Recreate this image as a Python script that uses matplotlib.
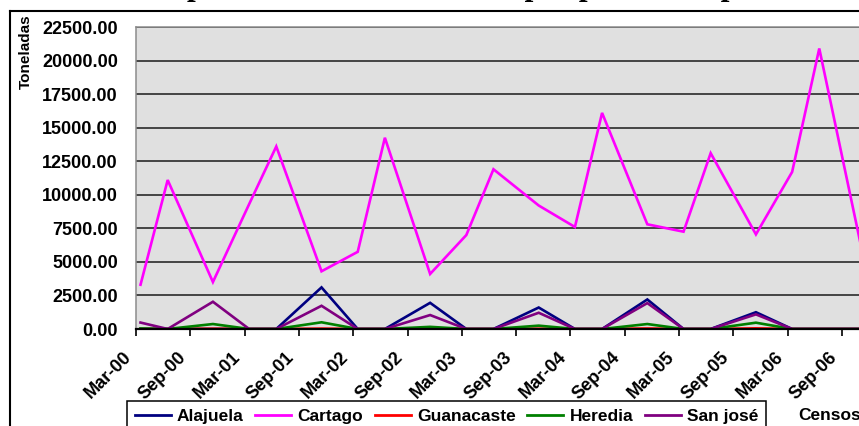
import matplotlib
matplotlib.use("Agg")
import matplotlib.pyplot as plt
from matplotlib.lines import Line2D
from matplotlib.ticker import FixedLocator, FuncFormatter
from matplotlib.transforms import ScaledTranslation

# Survey periods (month-yy) and tonnage per province
periods = ["Mar-00", "Jun-00", "Nov-00", "Mar-01", "Jun-01", "Nov-01", "Mar-02",
           "Jun-02", "Nov-02", "Mar-03", "Jun-03", "Nov-03", "Mar-04", "Jun-04",
           "Nov-04", "Mar-05", "Jun-05", "Nov-05", "Mar-06", "Jun-06", "Nov-06"]

alajuela = [0, 0, 0, 0, 0, 3100, 0, 0, 1950, 0, 0, 1600, 0, 0, 2200, 0, 0, 1250, 0, 0, 0]
cartago = [3300, 11100, 3500, 9300, 13600, 4300, 5750, 14250, 4100, 7000, 11900,
           9200, 7600, 16100, 7800, 7250, 13100, 7050, 11700, 20900, 4950]
guanacaste = [0, 0, 20, 0, 0, 30, 0, 0, 20, 0, 0, 20, 0, 0, 40, 0, 0, 50, 0, 0, 0]
heredia = [40, 0, 370, 0, 0, 500, 0, 0, 160, 0, 0, 250, 0, 0, 370, 0, 0, 470, 0, 0, 0]
san_jose = [480, 0, 2030, 0, 0, 1730, 0, 0, 1040, 0, 0, 1210, 0, 0, 1930, 0, 0, 1090, 0, 0, 0]

series_names = ["Alajuela", "Cartago", "Guanacaste", "Heredia", "San josé"]
series_colors = ["#000080", "#FF00FF", "#FF0000", "#008000", "#800080"]

tick_labels = ["Mar-00", "Sep-00", "Mar-01", "Sep-01", "Mar-02", "Sep-02", "Mar-03",
               "Sep-03", "Mar-04", "Sep-04", "Mar-05", "Sep-05", "Mar-06", "Sep-06"]

y_ticks = [0, 2500, 5000, 7500, 10000, 12500, 15000, 17500, 20000, 22500]

MONTHS = {"Jan": 1, "Feb": 2, "Mar": 3, "Apr": 4, "May": 5, "Jun": 6, "Jul": 7,
          "Aug": 8, "Sep": 9, "Oct": 10, "Nov": 11, "Dec": 12}


def month_index(label):
    """Months elapsed since March 2000."""
    mon, yy = label.split("-")
    return (2000 + int(yy)) * 12 + MONTHS[mon] - (2000 * 12 + 3)


# points sit in the middle of their month slot, ticks on month starts
x_pts = [month_index(p) + 0.5 for p in periods]
x_ticks = [month_index(t) for t in tick_labels]

W, H = 859, 426
fig = plt.figure(figsize=(W / 100, H / 100), dpi=100)
fig.patch.set_facecolor("white")

SANS = "Liberation Sans"
SERIF = "Liberation Serif"

month_px = 9.05
x_max = 81
ax_left, ax_top, ax_bottom = 136, 27, 329
ax = fig.add_axes([ax_left / W, 1 - ax_bottom / H,
                   x_max * month_px / W, (ax_bottom - ax_top) / H])
ax.set_facecolor("#E0E0E0")

for vals, name, col in zip([alajuela, cartago, guanacaste, heredia, san_jose],
                           series_names, series_colors):
    ax.plot(x_pts, vals, color=col, lw=1.9, label=name, zorder=3,
            solid_joinstyle="miter")

ax.set_xlim(0, x_max)
ax.set_ylim(0, 22500)

ax.yaxis.set_major_locator(FixedLocator(y_ticks))
ax.yaxis.set_major_formatter(FuncFormatter(lambda v, _: f"{v:.2f}"))
ax.set_axisbelow(True)
ax.yaxis.grid(True, color="#1a1a1a", lw=1.1)
ax.xaxis.grid(False)

ax.set_xticks(x_ticks)
ax.set_xticklabels(tick_labels, rotation=45, ha="right", va="center",
                   rotation_mode="anchor")

ax.tick_params(axis="y", length=0, pad=13, labelsize=13)
ax.tick_params(axis="x", direction="out", length=5, width=1.2, color="black",
               pad=12, labelsize=13)
shift = ScaledTranslation(-7 / 100, -2 / 100, fig.dpi_scale_trans)
for lab in ax.get_xticklabels():
    lab.set_transform(lab.get_transform() + shift)
for lab in ax.get_xticklabels() + ax.get_yticklabels():
    lab.set_fontfamily(SANS)
    lab.set_fontweight("bold")

for side in ("top", "left", "right"):
    ax.spines[side].set_color("#8c8c8c")
    ax.spines[side].set_linewidth(1.1)
ax.spines["bottom"].set_color("black")
ax.spines["bottom"].set_linewidth(1.6)
ax.spines["bottom"].set_zorder(4)

# value-axis title
fig.text(26 / W, 1 - 52 / H, "Toneladas", rotation=90, ha="center", va="center",
         fontsize=11, fontweight="bold", family=SANS)

# chart title
fig.text(21 / W, 1 + 5 / H, "Volumen de producción de hortalizas por provincia, por año",
         ha="left", va="baseline", fontsize=22.5, fontweight="bold", family=SERIF)

# chart border
fig.add_artist(Line2D([10 / W, 1.02], [1 - 11 / H, 1 - 11 / H],
                      transform=fig.transFigure, color="black", lw=1.5))
fig.add_artist(Line2D([10 / W, 10 / W], [-0.02, 1 - 11 / H],
                      transform=fig.transFigure, color="black", lw=1.5))

leg = fig.legend(loc="upper left", bbox_to_anchor=(127 / W, 1 - 401 / H),
                 ncol=5, frameon=True, fancybox=False, framealpha=1,
                 edgecolor="black", borderaxespad=0, handlelength=2.07,
                 handletextpad=0.35, columnspacing=0.68, borderpad=0.45,
                 prop={"family": SANS, "weight": "bold", "size": 12.5})
leg.get_frame().set_linewidth(1.1)
for h in leg.get_lines():
    h.set_linewidth(2.0)

fig.text(798 / W, 1 - 416 / H, "Censos", ha="left", va="center",
         fontsize=12.5, fontweight="bold", family=SANS)

fig.savefig("out.png", dpi=100)
